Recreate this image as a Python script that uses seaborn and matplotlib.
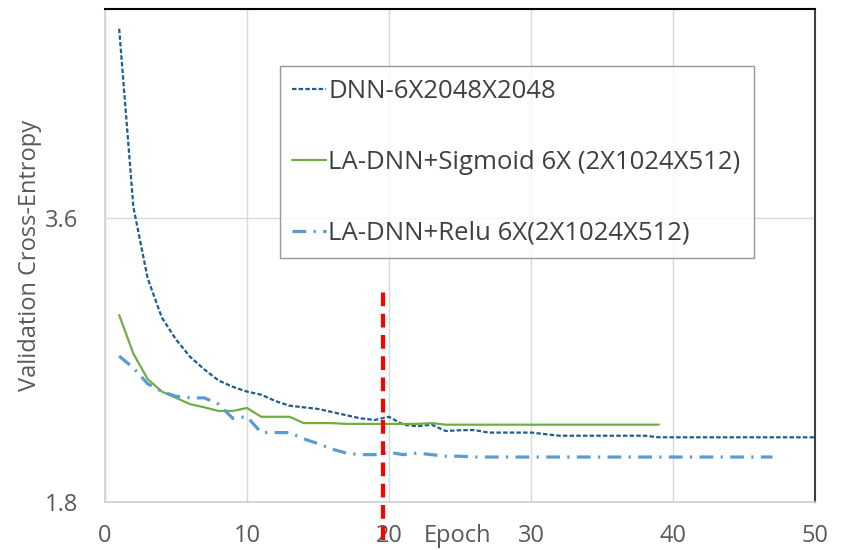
import pandas as pd
import matplotlib.pyplot as plt
import seaborn as sns

# values
dnn_epochs = list(range(1, 51))
dnn_loss = [4.80, 3.67, 3.22, 2.97, 2.83, 2.72, 2.64, 2.57, 2.53, 2.50,
            2.48, 2.44, 2.41, 2.40, 2.39, 2.37, 2.35, 2.33, 2.32, 2.34,
            2.29, 2.28, 2.29, 2.25, 2.255, 2.256, 2.24, 2.24, 2.24, 2.24,
            2.23, 2.22, 2.22, 2.22, 2.22, 2.22, 2.22, 2.22, 2.21, 2.21,
            2.21, 2.21, 2.21, 2.21, 2.21, 2.21, 2.21, 2.21, 2.21, 2.21]

sig_epochs = list(range(1, 40))
sig_loss = [2.985, 2.74, 2.58, 2.50, 2.46, 2.42, 2.40, 2.377, 2.377, 2.396,
            2.34, 2.34, 2.34, 2.30, 2.30, 2.30, 2.295, 2.295, 2.295, 2.295,
            2.295, 2.295, 2.30, 2.29, 2.29, 2.29, 2.29, 2.29, 2.29, 2.29,
            2.29, 2.29, 2.29, 2.29, 2.29, 2.29, 2.29, 2.29, 2.29]

relu_epochs = list(range(1, 48))
relu_loss = [2.725, 2.65, 2.55, 2.50, 2.47, 2.46, 2.46, 2.42, 2.33, 2.34,
             2.24, 2.24, 2.24, 2.20, 2.17, 2.135, 2.11, 2.10, 2.10, 2.115,
             2.10, 2.11, 2.10, 2.09, 2.09, 2.085, 2.085, 2.085, 2.085, 2.085,
             2.085, 2.085, 2.085, 2.085, 2.085, 2.085, 2.085, 2.085, 2.085, 2.085,
             2.085, 2.085, 2.085, 2.085, 2.085, 2.085, 2.085]

labels = ['DNN-6X2048X2048',
          'LA-DNN+Sigmoid 6X (2X1024X512)',
          'LA-DNN+Relu 6X(2X1024X512)']
x_ticks = [0, 10, 20, 30, 40, 50]
y_ticks = [1.8, 3.6]
split_epoch = 19.6

sns.set_style('white')
plt.rcParams['font.family'] = ['Open Sans', 'DejaVu Sans']

fig = plt.figure(figsize=(8.59, 5.5), dpi=100)
ax = fig.add_axes([0.1222, 0.0873, 0.8266, 0.8963])

text_col = '#595959'

sns.lineplot(x=dnn_epochs, y=dnn_loss, ax=ax, color='#1F5C8F', lw=1.6,
             linestyle=(0, (2, 1)), label=labels[0])
sns.lineplot(x=sig_epochs, y=sig_loss, ax=ax, color='#70AD47', lw=1.6,
             label=labels[1])
sns.lineplot(x=relu_epochs, y=relu_loss, ax=ax, color='#5B9BD5', lw=2.3,
             linestyle=(0, (4.3, 2.3, 0.7, 2.3)), label=labels[2])

# red split marker, runs through the tick labels
ax.axvline(split_epoch, ymin=-0.078, ymax=0.44, color='#FF0000', lw=3,
           linestyle=(0, (3.3, 1.8)), clip_on=False, zorder=5)

ax.set_xlim(0, 50)
ax.set_ylim(1.8, 4.925)
ax.set_xticks(x_ticks)
ax.set_yticks(y_ticks)
ax.set_yticklabels(['1.8', '3.6'])
ax.tick_params(axis='x', length=0, pad=16, labelsize=17, labelcolor=text_col)
ax.tick_params(axis='y', length=0, pad=19, labelsize=17, labelcolor=text_col)
ax.grid(True, color='#d9d9d9', lw=1)

ax.set_xlabel('Epoch', fontsize=17, color=text_col)
ax.xaxis.set_label_coords(0.497, -0.044)
ax.set_ylabel('Validation Cross-Entropy', fontsize=17, color=text_col)
ax.yaxis.set_label_coords(-0.088, 0.5)

for side in ['left', 'bottom']:
    ax.spines[side].set_color('#d0d0d0')
    ax.spines[side].set_linewidth(1.2)
ax.spines['top'].set_color('black')
ax.spines['top'].set_linewidth(1.5)
ax.spines['right'].set_color('#404040')
ax.spines['right'].set_linewidth(1.5)

leg = ax.legend(loc='upper left', bbox_to_anchor=(0.246, 0.884), fontsize=18.5,
                frameon=True, fancybox=False, handlelength=1.3,
                handletextpad=0.1, labelspacing=1.78, borderpad=0.5,
                borderaxespad=0)
leg.get_frame().set_edgecolor('#7f7f7f')
leg.get_frame().set_linewidth(1)
for t in leg.get_texts():
    t.set_color('#404040')

fig.savefig('out.png', dpi=100)
